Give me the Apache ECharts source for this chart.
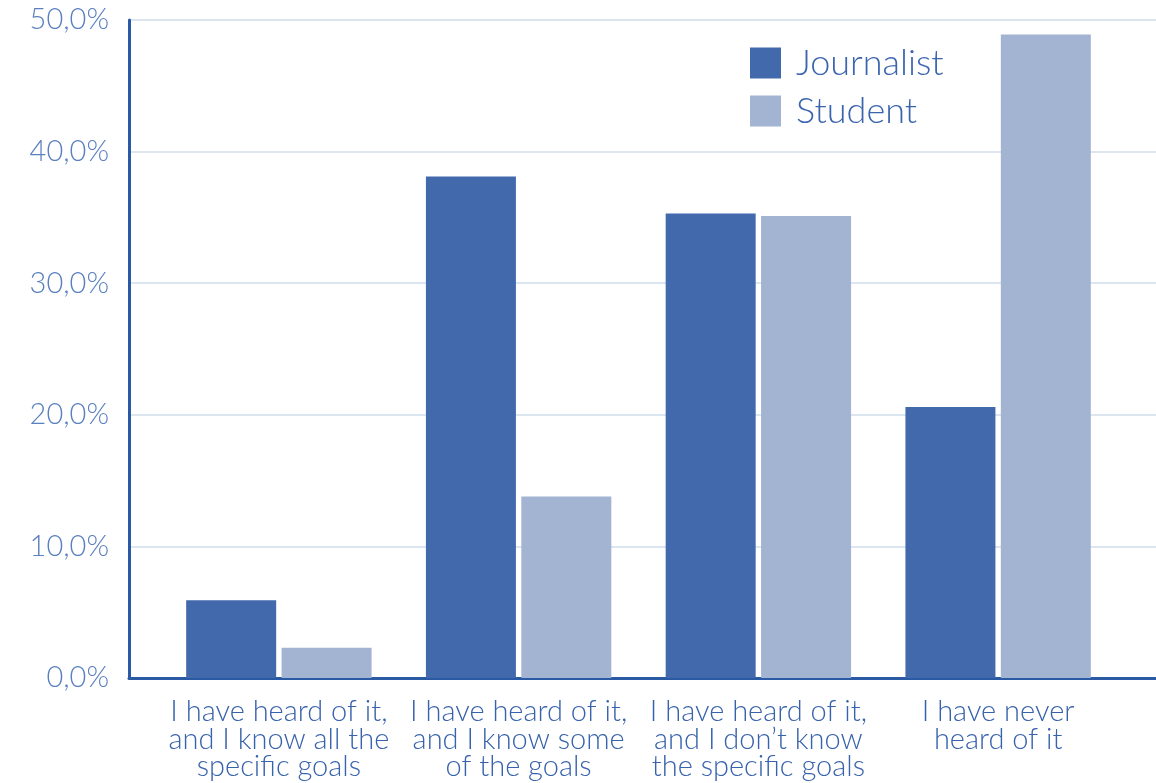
<!DOCTYPE html>
<html>
<head>
<meta charset="utf-8">
<script src="https://cdn.jsdelivr.net/npm/echarts@6/dist/echarts.min.js"></script>
<style>
html,body{margin:0;padding:0;background:#fff;}
#chart{width:1156px;height:783px;}
</style>
</head>
<body>
<div id="chart"></div>
<script>
const categories = [
  "I have heard of it,\nand I know all the\nspecific goals",
  "I have heard of it,\nand I know some\nof the goals",
  "I have heard of it,\nand I don\u2019t know\nthe specific goals",
  "I have never\nheard of it"
];
const journalist = [5.9, 38.1, 35.3, 20.6];
const student = [2.3, 13.8, 35.1, 48.9];
const seriesNames = ["Journalist", "Student"];

const FONT = "Lato, 'Open Sans', 'Liberation Sans', sans-serif";
const chart = echarts.init(document.getElementById('chart'));
chart.setOption({
  animation: false,
  backgroundColor: '#ffffff',
  grid: [
    {left: 129, right: 0, top: 20, bottom: 105},
    {left: 159, right: 38, top: 20, bottom: 105}
  ],
  legend: {
    data: seriesNames,
    orient: 'vertical',
    left: 745,
    top: 40,
    itemWidth: 31,
    itemHeight: 31,
    itemGap: 12,
    icon: 'rect',
    textStyle: {fontSize: 36, lineHeight: 31, color: '#3A64AE', fontFamily: FONT, fontWeight: 300, padding: [0, 0, 0, 10]}
  },
  xAxis: [
    {gridIndex: 0, type: 'category', data: [''], axisLine: {show: true, lineStyle: {color: '#2B5AA5', width: 3}},
     axisTick: {show: false}, axisLabel: {show: false}},
    {gridIndex: 1, type: 'category', data: categories, axisLine: {show: false}, axisTick: {show: false},
     axisLabel: {interval: 0, margin: 20, fontSize: 29, lineHeight: 27.5, color: '#3762AC', fontFamily: FONT, fontWeight: 300, align: 'center'}}
  ],
  yAxis: [
    {gridIndex: 0, type: 'value', min: 0, max: 50, interval: 10,
     axisLine: {show: true, lineStyle: {color: '#2B5AA5', width: 3}},
     axisTick: {show: false},
     splitLine: {show: true, lineStyle: {color: '#DCE6F1', width: 2}},
     axisLabel: {margin: 20, fontSize: 29, color: '#5A80C0', fontFamily: FONT, fontWeight: 300,
       formatter: v => v.toFixed(1).replace('.', ',') + '%'}},
    {gridIndex: 1, type: 'value', min: 0, max: 50, interval: 10, show: false, splitLine: {show: false}}
  ],
  series: [
    {name: seriesNames[0], type: 'bar', xAxisIndex: 1, yAxisIndex: 1, data: journalist, barWidth: 90, barGap: '6%',
     itemStyle: {color: '#4369AD'}},
    {name: seriesNames[1], type: 'bar', xAxisIndex: 1, yAxisIndex: 1, data: student, barWidth: 90, barGap: '6%',
     itemStyle: {color: '#A3B3D2'}}
  ]
});
</script>
</body>
</html>
